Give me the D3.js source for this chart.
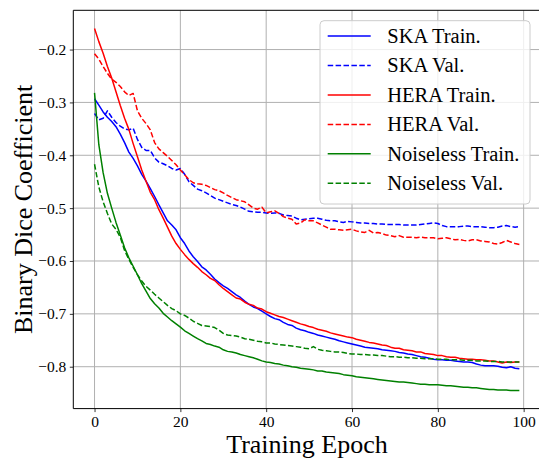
<!DOCTYPE html>
<html><head><meta charset="utf-8">
<script src="https://cdn.jsdelivr.net/npm/d3@7"></script>
<style>body{margin:0;background:#fff}svg{display:block}svg text{font-family:"Liberation Serif","Times New Roman",Times,serif}</style>
</head><body><svg id="c" width="539" height="458"></svg>
<script>
const skaTrain = [-0.293,-0.305,-0.318,-0.328,-0.336,-0.346,-0.360,-0.376,-0.394,-0.406,
-0.420,-0.436,-0.449,-0.463,-0.478,-0.494,-0.509,-0.524,-0.532,-0.541,
-0.556,-0.567,-0.581,-0.592,-0.601,-0.611,-0.617,-0.625,-0.634,-0.641,
-0.647,-0.652,-0.658,-0.664,-0.669,-0.676,-0.682,-0.687,-0.690,-0.695,
-0.700,-0.705,-0.709,-0.711,-0.716,-0.720,-0.722,-0.727,-0.730,-0.732,
-0.735,-0.737,-0.740,-0.742,-0.744,-0.746,-0.748,-0.751,-0.753,-0.755,
-0.757,-0.759,-0.761,-0.763,-0.764,-0.765,-0.766,-0.768,-0.769,-0.770,
-0.771,-0.773,-0.774,-0.776,-0.777,-0.779,-0.781,-0.782,-0.784,-0.786,
-0.787,-0.787,-0.788,-0.788,-0.789,-0.790,-0.791,-0.791,-0.792,-0.795,
-0.797,-0.798,-0.798,-0.798,-0.799,-0.801,-0.802,-0.800,-0.803,-0.804];
const skaVal = [-0.321,-0.333,-0.330,-0.316,-0.328,-0.338,-0.345,-0.350,-0.352,-0.349,
-0.370,-0.385,-0.391,-0.391,-0.405,-0.413,-0.416,-0.420,-0.425,-0.428,
-0.425,-0.436,-0.450,-0.457,-0.464,-0.467,-0.471,-0.476,-0.481,-0.484,
-0.487,-0.490,-0.493,-0.495,-0.498,-0.502,-0.506,-0.507,-0.508,-0.508,
-0.509,-0.510,-0.509,-0.510,-0.513,-0.514,-0.515,-0.519,-0.522,-0.521,
-0.520,-0.519,-0.519,-0.521,-0.523,-0.524,-0.524,-0.526,-0.527,-0.525,
-0.526,-0.527,-0.528,-0.528,-0.529,-0.529,-0.530,-0.530,-0.531,-0.531,
-0.531,-0.531,-0.532,-0.532,-0.532,-0.532,-0.531,-0.530,-0.529,-0.528,
-0.529,-0.533,-0.535,-0.535,-0.535,-0.535,-0.534,-0.534,-0.535,-0.535,
-0.535,-0.536,-0.537,-0.537,-0.536,-0.534,-0.533,-0.535,-0.536,-0.535];
const heraTrain = [-0.160,-0.185,-0.207,-0.232,-0.254,-0.280,-0.306,-0.330,-0.351,-0.378,
-0.403,-0.428,-0.449,-0.470,-0.484,-0.503,-0.519,-0.536,-0.553,-0.567,
-0.578,-0.588,-0.597,-0.605,-0.612,-0.620,-0.626,-0.633,-0.637,-0.645,
-0.652,-0.658,-0.664,-0.670,-0.672,-0.678,-0.682,-0.684,-0.689,-0.691,
-0.696,-0.699,-0.702,-0.705,-0.707,-0.710,-0.713,-0.716,-0.719,-0.721,
-0.724,-0.726,-0.729,-0.731,-0.733,-0.736,-0.738,-0.740,-0.742,-0.744,
-0.745,-0.748,-0.750,-0.752,-0.754,-0.755,-0.757,-0.759,-0.760,-0.763,
-0.765,-0.765,-0.768,-0.769,-0.770,-0.772,-0.772,-0.775,-0.776,-0.777,
-0.779,-0.779,-0.781,-0.782,-0.782,-0.784,-0.785,-0.786,-0.786,-0.787,
-0.787,-0.788,-0.789,-0.789,-0.791,-0.793,-0.791,-0.792,-0.791,-0.791];
const heraVal = [-0.208,-0.218,-0.232,-0.245,-0.256,-0.262,-0.270,-0.280,-0.287,-0.283,
-0.316,-0.330,-0.340,-0.352,-0.376,-0.388,-0.395,-0.402,-0.410,-0.418,
-0.428,-0.437,-0.446,-0.452,-0.454,-0.455,-0.457,-0.461,-0.465,-0.467,
-0.471,-0.476,-0.480,-0.484,-0.486,-0.488,-0.494,-0.500,-0.502,-0.498,
-0.509,-0.507,-0.505,-0.510,-0.516,-0.519,-0.521,-0.530,-0.528,-0.522,
-0.524,-0.524,-0.528,-0.532,-0.536,-0.540,-0.540,-0.541,-0.542,-0.541,
-0.540,-0.543,-0.545,-0.546,-0.542,-0.547,-0.546,-0.548,-0.551,-0.552,
-0.554,-0.552,-0.555,-0.555,-0.555,-0.556,-0.555,-0.556,-0.556,-0.556,
-0.558,-0.557,-0.556,-0.558,-0.560,-0.559,-0.561,-0.562,-0.560,-0.560,
-0.562,-0.563,-0.564,-0.567,-0.568,-0.565,-0.561,-0.564,-0.567,-0.569];
const noiselessTrain = [-0.282,-0.380,-0.433,-0.472,-0.500,-0.527,-0.551,-0.575,-0.594,-0.610,
-0.626,-0.643,-0.657,-0.671,-0.681,-0.689,-0.699,-0.706,-0.713,-0.719,
-0.725,-0.732,-0.737,-0.742,-0.747,-0.751,-0.756,-0.758,-0.761,-0.763,
-0.768,-0.771,-0.772,-0.774,-0.777,-0.779,-0.781,-0.783,-0.786,-0.789,
-0.791,-0.792,-0.794,-0.795,-0.797,-0.798,-0.800,-0.801,-0.803,-0.804,
-0.805,-0.806,-0.808,-0.808,-0.810,-0.811,-0.812,-0.813,-0.815,-0.816,
-0.817,-0.819,-0.820,-0.821,-0.822,-0.823,-0.824,-0.825,-0.826,-0.827,
-0.828,-0.829,-0.829,-0.830,-0.831,-0.832,-0.833,-0.833,-0.834,-0.834,
-0.834,-0.835,-0.836,-0.836,-0.837,-0.838,-0.839,-0.839,-0.840,-0.840,
-0.841,-0.842,-0.843,-0.843,-0.844,-0.844,-0.844,-0.845,-0.845,-0.845];
const noiselessVal = [-0.417,-0.460,-0.488,-0.510,-0.530,-0.540,-0.555,-0.580,-0.597,-0.612,
-0.626,-0.638,-0.648,-0.655,-0.663,-0.670,-0.677,-0.684,-0.690,-0.694,
-0.700,-0.703,-0.708,-0.714,-0.718,-0.722,-0.723,-0.724,-0.726,-0.731,
-0.737,-0.740,-0.741,-0.742,-0.744,-0.747,-0.748,-0.750,-0.752,-0.753,
-0.755,-0.755,-0.757,-0.758,-0.759,-0.760,-0.761,-0.762,-0.763,-0.765,
-0.766,-0.762,-0.767,-0.769,-0.770,-0.771,-0.772,-0.772,-0.773,-0.775,
-0.776,-0.776,-0.777,-0.777,-0.778,-0.778,-0.779,-0.779,-0.780,-0.781,
-0.781,-0.782,-0.782,-0.783,-0.783,-0.784,-0.784,-0.785,-0.785,-0.785,
-0.786,-0.786,-0.786,-0.787,-0.787,-0.787,-0.788,-0.788,-0.788,-0.789,
-0.789,-0.789,-0.790,-0.790,-0.790,-0.791,-0.791,-0.791,-0.791,-0.791];

const seriesNames = ["SKA Train.","SKA Val.","HERA Train.","HERA Val.","Noiseless Train.","Noiseless Val."];
const seriesValues = [skaTrain, skaVal, heraTrain, heraVal, noiselessTrain, noiselessVal];
const seriesColors = ["#0000ff","#0000ff","#ff0000","#ff0000","#008000","#008000"];
const seriesDashed = [false,true,false,true,false,true];
const xTicks = [0,20,40,60,80,100];
const yTicks = [-0.8,-0.7,-0.6,-0.5,-0.4,-0.3,-0.2];
const xLabel = "Training Epoch";
const yLabel = "Binary Dice Coefficient";

const L = 73.3, T = 10.3, R = 540.6, B = 408.6;
const svg = d3.select("#c");

const x = d3.scaleLinear().domain([-4.95, 103.95]).range([L, R]);
const y = d3.scaleLinear().domain([-0.87925, -0.12575]).range([B, T]);

// grid
const grid = svg.append("g").attr("stroke", "#b0b0b0").attr("stroke-width", 1);
grid.selectAll("line.gx").data(xTicks).join("line")
  .attr("x1", d => x(d)).attr("x2", d => x(d)).attr("y1", T).attr("y2", B);
grid.selectAll("line.gy").data(yTicks).join("line")
  .attr("x1", L).attr("x2", R).attr("y1", d => y(d)).attr("y2", d => y(d));

// clip
svg.append("defs").append("clipPath").attr("id", "clip")
  .append("rect").attr("x", L).attr("y", T).attr("width", R - L).attr("height", B - T);

const line = d3.line().x((d, i) => x(i)).y(d => y(d));
const plot = svg.append("g").attr("clip-path", "url(#clip)");
seriesValues.forEach((vals, k) => {
  plot.append("path").datum(vals)
    .attr("d", line)
    .attr("fill", "none")
    .attr("stroke", seriesColors[k])
    .attr("stroke-width", 1.5)
    .attr("stroke-linejoin", "round")
    .attr("stroke-dasharray", seriesDashed[k] ? "5.5,2.4" : null);
});

// axes
const fmt = d3.format(".1f");
const xAxis = svg.append("g").attr("transform", `translate(0,${B})`)
  .call(d3.axisBottom(x).tickValues(xTicks).tickSize(3.5).tickPadding(3.5).tickFormat(d3.format("d")));
const yAxis = svg.append("g").attr("transform", `translate(${L},0)`)
  .call(d3.axisLeft(y).tickValues(yTicks).tickSize(3.5).tickPadding(3.5).tickFormat(fmt));
[xAxis, yAxis].forEach(a => {
  a.attr("font-family", null).attr("font-size", null);
  a.select(".domain").remove();
  a.selectAll(".tick line").attr("stroke", "#000").attr("stroke-width", 0.8);
  a.selectAll(".tick text").style("font-size", "15.5px").attr("fill", "#000");
});

// spines
const sp = svg.append("g").attr("stroke", "#000").attr("stroke-width", 1).attr("fill", "none");
sp.append("line").attr("x1", L).attr("x2", L).attr("y1", T).attr("y2", B);
sp.append("line").attr("x1", L).attr("x2", R).attr("y1", B).attr("y2", B);
sp.append("line").attr("x1", L).attr("x2", R).attr("y1", T).attr("y2", T);
sp.append("line").attr("x1", R).attr("x2", R).attr("y1", T).attr("y2", B);

// labels
svg.append("text").attr("x", (L + R) / 2).attr("y", 452.5)
  .attr("text-anchor", "middle").style("font-size", "26px").text(xLabel);
svg.append("text").attr("transform", `translate(32,${(T + B) / 2}) rotate(-90)`)
  .attr("text-anchor", "middle").style("font-size", "26px").text(yLabel);

// legend
const lg = svg.append("g");
lg.append("rect").attr("x", 320).attr("y", 20.7).attr("width", 210).attr("height", 183.3)
  .attr("rx", 4).attr("fill", "#fff").attr("fill-opacity", 0.8)
  .attr("stroke", "#cccccc").attr("stroke-width", 1);
const rowY = d3.scaleLinear().domain([0, 5]).range([36, 183.3]);
seriesNames.forEach((name, k) => {
  const yy = rowY(k);
  lg.append("line").attr("x1", 327.7).attr("x2", 370.7).attr("y1", yy).attr("y2", yy)
    .attr("stroke", seriesColors[k]).attr("stroke-width", 1.5)
    .attr("stroke-dasharray", seriesDashed[k] ? "5.5,2.4" : null);
  lg.append("text").attr("x", 387.3).attr("y", yy + 7).style("font-size", "20.5px")
    .attr("fill", "#000").text(name);
});
</script></body></html>
